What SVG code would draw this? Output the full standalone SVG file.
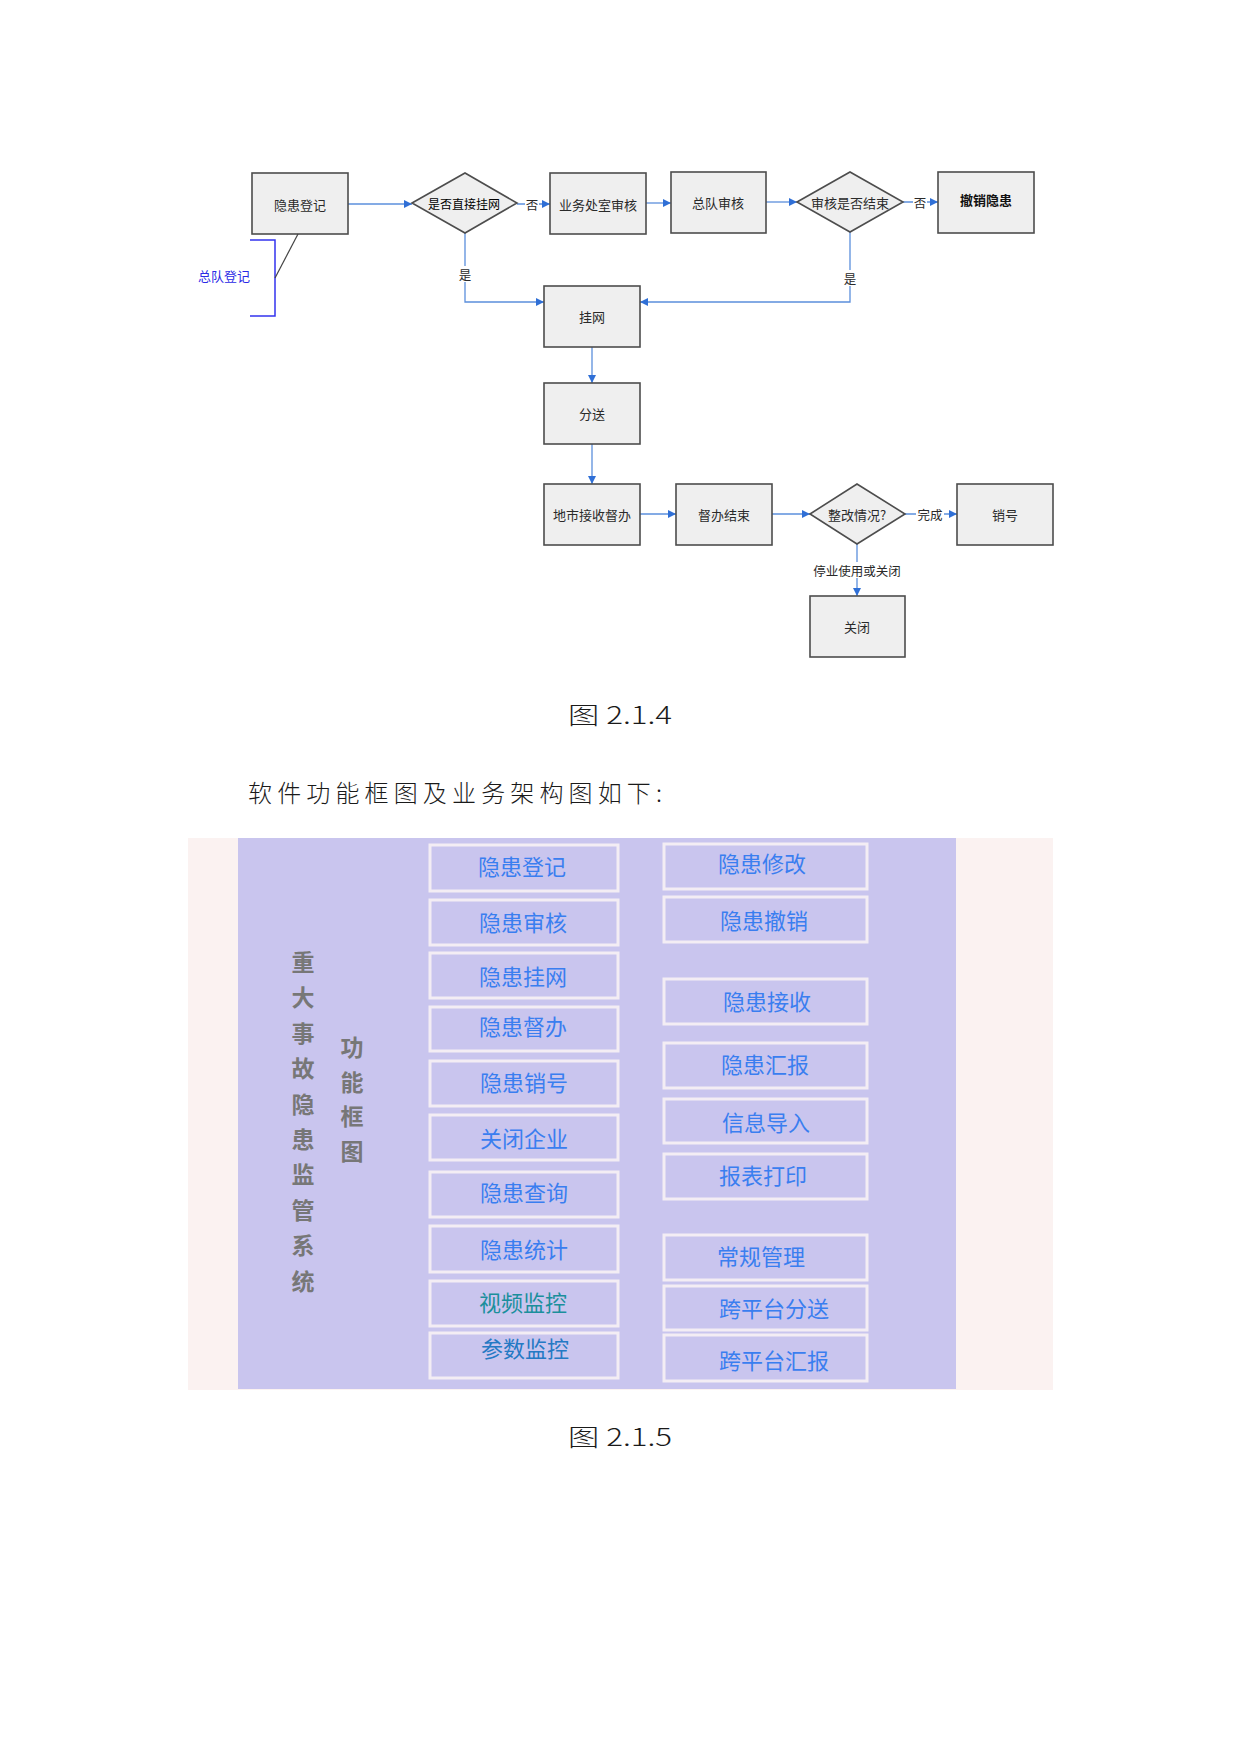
<svg xmlns="http://www.w3.org/2000/svg" width="1241" height="1754" viewBox="0 0 1241 1754">
<defs>
<marker id="arr" viewBox="0 0 10 10" refX="10" refY="5" markerWidth="8" markerHeight="8" markerUnits="userSpaceOnUse" orient="auto">
<path d="M0,0 L10,5 L0,10 z" fill="#2f6fd6"/>
</marker>
<style>
.box{fill:#efefef;stroke:#4d4d4d;stroke-width:1.6}
.ft{font-family:"Noto Sans CJK SC","Noto Sans",sans-serif;font-size:13px;fill:#2a2a2a;text-anchor:middle;dominant-baseline:central}
.lbl{font-family:"Noto Sans CJK SC","Noto Sans",sans-serif;font-size:12.5px;fill:#2a2a2a;text-anchor:middle;dominant-baseline:central}
.con{fill:none;stroke:#5b8fdc;stroke-width:1.3}
.cap{font-family:"Noto Sans CJK SC","Noto Sans",sans-serif;font-size:24px;fill:#1a1a1a;font-weight:300}
.fb{fill:none;stroke:#f3edf4;stroke-width:3}
.bt{font-family:"Noto Sans CJK SC","Noto Sans",sans-serif;font-size:22px;fill:#3a7ef0;text-anchor:middle;dominant-baseline:central}
.vt{font-family:"Noto Sans CJK SC","Noto Sans",sans-serif;font-size:23px;fill:#777777;font-weight:bold;text-anchor:middle;dominant-baseline:central}
</style>
</defs>
<rect width="1241" height="1754" fill="#ffffff"/>

<!-- Flowchart 2.1.4 connectors -->
<g id="connectors">
<path class="con" d="M348,204 H412" marker-end="url(#arr)"/>
<path class="con" d="M517,204 H550" marker-end="url(#arr)"/>
<path class="con" d="M646,203 H671" marker-end="url(#arr)"/>
<path class="con" d="M766,202 H797" marker-end="url(#arr)"/>
<path class="con" d="M903,202 H938" marker-end="url(#arr)"/>
<path class="con" d="M465,233 V302 H544" marker-end="url(#arr)"/>
<path class="con" d="M850,232 V302 H640" marker-end="url(#arr)"/>
<path class="con" d="M592,347 V383" marker-end="url(#arr)"/>
<path class="con" d="M592,444 V484" marker-end="url(#arr)"/>
<path class="con" d="M640,514 H676" marker-end="url(#arr)"/>
<path class="con" d="M772,514 H810" marker-end="url(#arr)"/>
<path class="con" d="M905,514 H957" marker-end="url(#arr)"/>
<path class="con" d="M857,544 V596" marker-end="url(#arr)"/>
<rect x="525" y="196" width="14" height="16" fill="#fff"/>
<text class="lbl" x="532" y="204">否</text>
<rect x="913" y="194" width="14" height="16" fill="#fff"/>
<text class="lbl" x="920" y="202">否</text>
<rect x="458" y="266" width="14" height="16" fill="#fff"/>
<text class="lbl" x="465" y="274">是</text>
<rect x="843" y="270" width="14" height="16" fill="#fff"/>
<text class="lbl" x="850" y="278">是</text>
<rect x="916" y="506" width="28" height="16" fill="#fff"/>
<text class="lbl" x="930" y="514">完成</text>
<rect x="810" y="562" width="94" height="16" fill="#fff"/>
<text class="lbl" x="857" y="570">停业使用或关闭</text>
</g>

<g id="n-dengji"><rect class="box" x="252" y="173" width="96" height="61"/><text class="ft" x="300" y="204">隐患登记</text></g>
<g id="d-guawang"><polygon class="box" points="412,203 465,173 517,203 465,233"/><text class="ft" x="464" y="203" style="fill:#000;font-size:12px">是否直接挂网</text></g>
<g id="n-yewu"><rect class="box" x="550" y="173" width="96" height="61"/><text class="ft" x="598" y="204">业务处室审核</text></g>
<g id="n-zongdui"><rect class="box" x="671" y="172" width="95" height="61"/><text class="ft" x="718" y="202">总队审核</text></g>
<g id="d-jieshu"><polygon class="box" points="797,202 850,172 903,202 850,232"/><text class="ft" x="850" y="202">审核是否结束</text></g>
<g id="n-chexiao"><rect class="box" x="938" y="172" width="96" height="61"/><text class="ft" x="986" y="199" style="fill:#111;font-weight:bold">撤销隐患</text></g>
<g id="n-gua"><rect class="box" x="544" y="286" width="96" height="61"/><text class="ft" x="592" y="316">挂网</text></g>
<g id="n-fensong"><rect class="box" x="544" y="383" width="96" height="61"/><text class="ft" x="592" y="413">分送</text></g>
<g id="n-dishi"><rect class="box" x="544" y="484" width="96" height="61"/><text class="ft" x="592" y="514">地市接收督办</text></g>
<g id="n-duban"><rect class="box" x="676" y="484" width="96" height="61"/><text class="ft" x="724" y="514">督办结束</text></g>
<g id="d-zhenggai"><polygon class="box" points="810,514 857,484 905,514 857,544"/><text class="ft" x="857" y="514">整改情况?</text></g>
<g id="n-xiaohao"><rect class="box" x="957" y="484" width="96" height="61"/><text class="ft" x="1005" y="514">销号</text></g>
<g id="n-guanbi"><rect class="box" x="810" y="596" width="95" height="61"/><text class="ft" x="857" y="626">关闭</text></g>

<g id="note-zongdui">
<path d="M250,240 H275 V316 H250" fill="none" stroke="#3333ee" stroke-width="1.5"/>
<path d="M298,234 L275,278" fill="none" stroke="#444" stroke-width="1.2"/>
<text class="ft" x="224" y="275" style="fill:#2a2ae6">总队登记</text>
</g>

<text class="cap" x="568" y="724" textLength="104" lengthAdjust="spacingAndGlyphs">图 2.1.4</text>
<text class="cap" x="248" y="802" textLength="414" lengthAdjust="spacing">软件功能框图及业务架构图如下:</text>

<!-- Function block diagram 2.1.5 -->
<g id="fbd">
<rect x="188" y="838" width="865" height="552" fill="#fbf2f1"/>
<rect x="238" y="838" width="718" height="551" fill="#c9c5ee"/>

<g id="vtitle1">
<text class="vt" x="303" y="961">重</text>
<text class="vt" x="303" y="996">大</text>
<text class="vt" x="303" y="1032">事</text>
<text class="vt" x="303" y="1067">故</text>
<text class="vt" x="303" y="1103">隐</text>
<text class="vt" x="303" y="1138">患</text>
<text class="vt" x="303" y="1173">监</text>
<text class="vt" x="303" y="1209">管</text>
<text class="vt" x="303" y="1244">系</text>
<text class="vt" x="303" y="1280">统</text>
</g>
<g id="vtitle2">
<text class="vt" x="352" y="1046">功</text>
<text class="vt" x="352" y="1081">能</text>
<text class="vt" x="352" y="1115">框</text>
<text class="vt" x="352" y="1150">图</text>
</g>

<g id="f-dengji"><rect class="fb" x="430" y="845" width="188" height="46"/><text class="bt" x="522" y="865">隐患登记</text></g>
<g id="f-shenhe"><rect class="fb" x="430" y="900" width="188" height="45"/><text class="bt" x="523" y="921">隐患审核</text></g>
<g id="f-guawang"><rect class="fb" x="430" y="953" width="188" height="45"/><text class="bt" x="523" y="975">隐患挂网</text></g>
<g id="f-duban"><rect class="fb" x="430" y="1007" width="188" height="44"/><text class="bt" x="523" y="1025">隐患督办</text></g>
<g id="f-xiaohao"><rect class="fb" x="430" y="1061" width="188" height="45"/><text class="bt" x="524" y="1081">隐患销号</text></g>
<g id="f-guanbi"><rect class="fb" x="430" y="1115" width="188" height="45"/><text class="bt" x="524" y="1137">关闭企业</text></g>
<g id="f-chaxun"><rect class="fb" x="430" y="1172" width="188" height="45"/><text class="bt" x="524" y="1191">隐患查询</text></g>
<g id="f-tongji"><rect class="fb" x="430" y="1226" width="188" height="46"/><text class="bt" x="524" y="1248">隐患统计</text></g>
<g id="f-shipin"><rect class="fb" x="430" y="1281" width="188" height="45"/><text class="bt" x="523" y="1301" style="fill:#1b8f9c">视频监控</text></g>
<g id="f-canshu"><rect class="fb" x="430" y="1333" width="188" height="45"/><text class="bt" x="525" y="1347" style="fill:#2479c4">参数监控</text></g>

<g id="f-xiugai"><rect class="fb" x="664" y="844" width="203" height="45"/><text class="bt" x="762" y="862">隐患修改</text></g>
<g id="f-chexiao"><rect class="fb" x="664" y="897" width="203" height="45"/><text class="bt" x="764" y="919">隐患撤销</text></g>
<g id="f-jieshou"><rect class="fb" x="664" y="979" width="203" height="45"/><text class="bt" x="767" y="1000">隐患接收</text></g>
<g id="f-huibao"><rect class="fb" x="664" y="1043" width="203" height="45"/><text class="bt" x="765" y="1063">隐患汇报</text></g>
<g id="f-daoru"><rect class="fb" x="664" y="1099" width="203" height="44"/><text class="bt" x="766" y="1121">信息导入</text></g>
<g id="f-dayin"><rect class="fb" x="664" y="1154" width="203" height="45"/><text class="bt" x="763" y="1174">报表打印</text></g>
<g id="f-changgui"><rect class="fb" x="664" y="1235" width="203" height="45"/><text class="bt" x="761" y="1255">常规管理</text></g>
<g id="f-fensong"><rect class="fb" x="664" y="1286" width="203" height="44"/><text class="bt" x="774" y="1307">跨平台分送</text></g>
<g id="f-kuahuibao"><rect class="fb" x="664" y="1335" width="203" height="46"/><text class="bt" x="774" y="1359">跨平台汇报</text></g>
</g>

<text class="cap" x="568" y="1446" textLength="104" lengthAdjust="spacingAndGlyphs">图 2.1.5</text>
</svg>
